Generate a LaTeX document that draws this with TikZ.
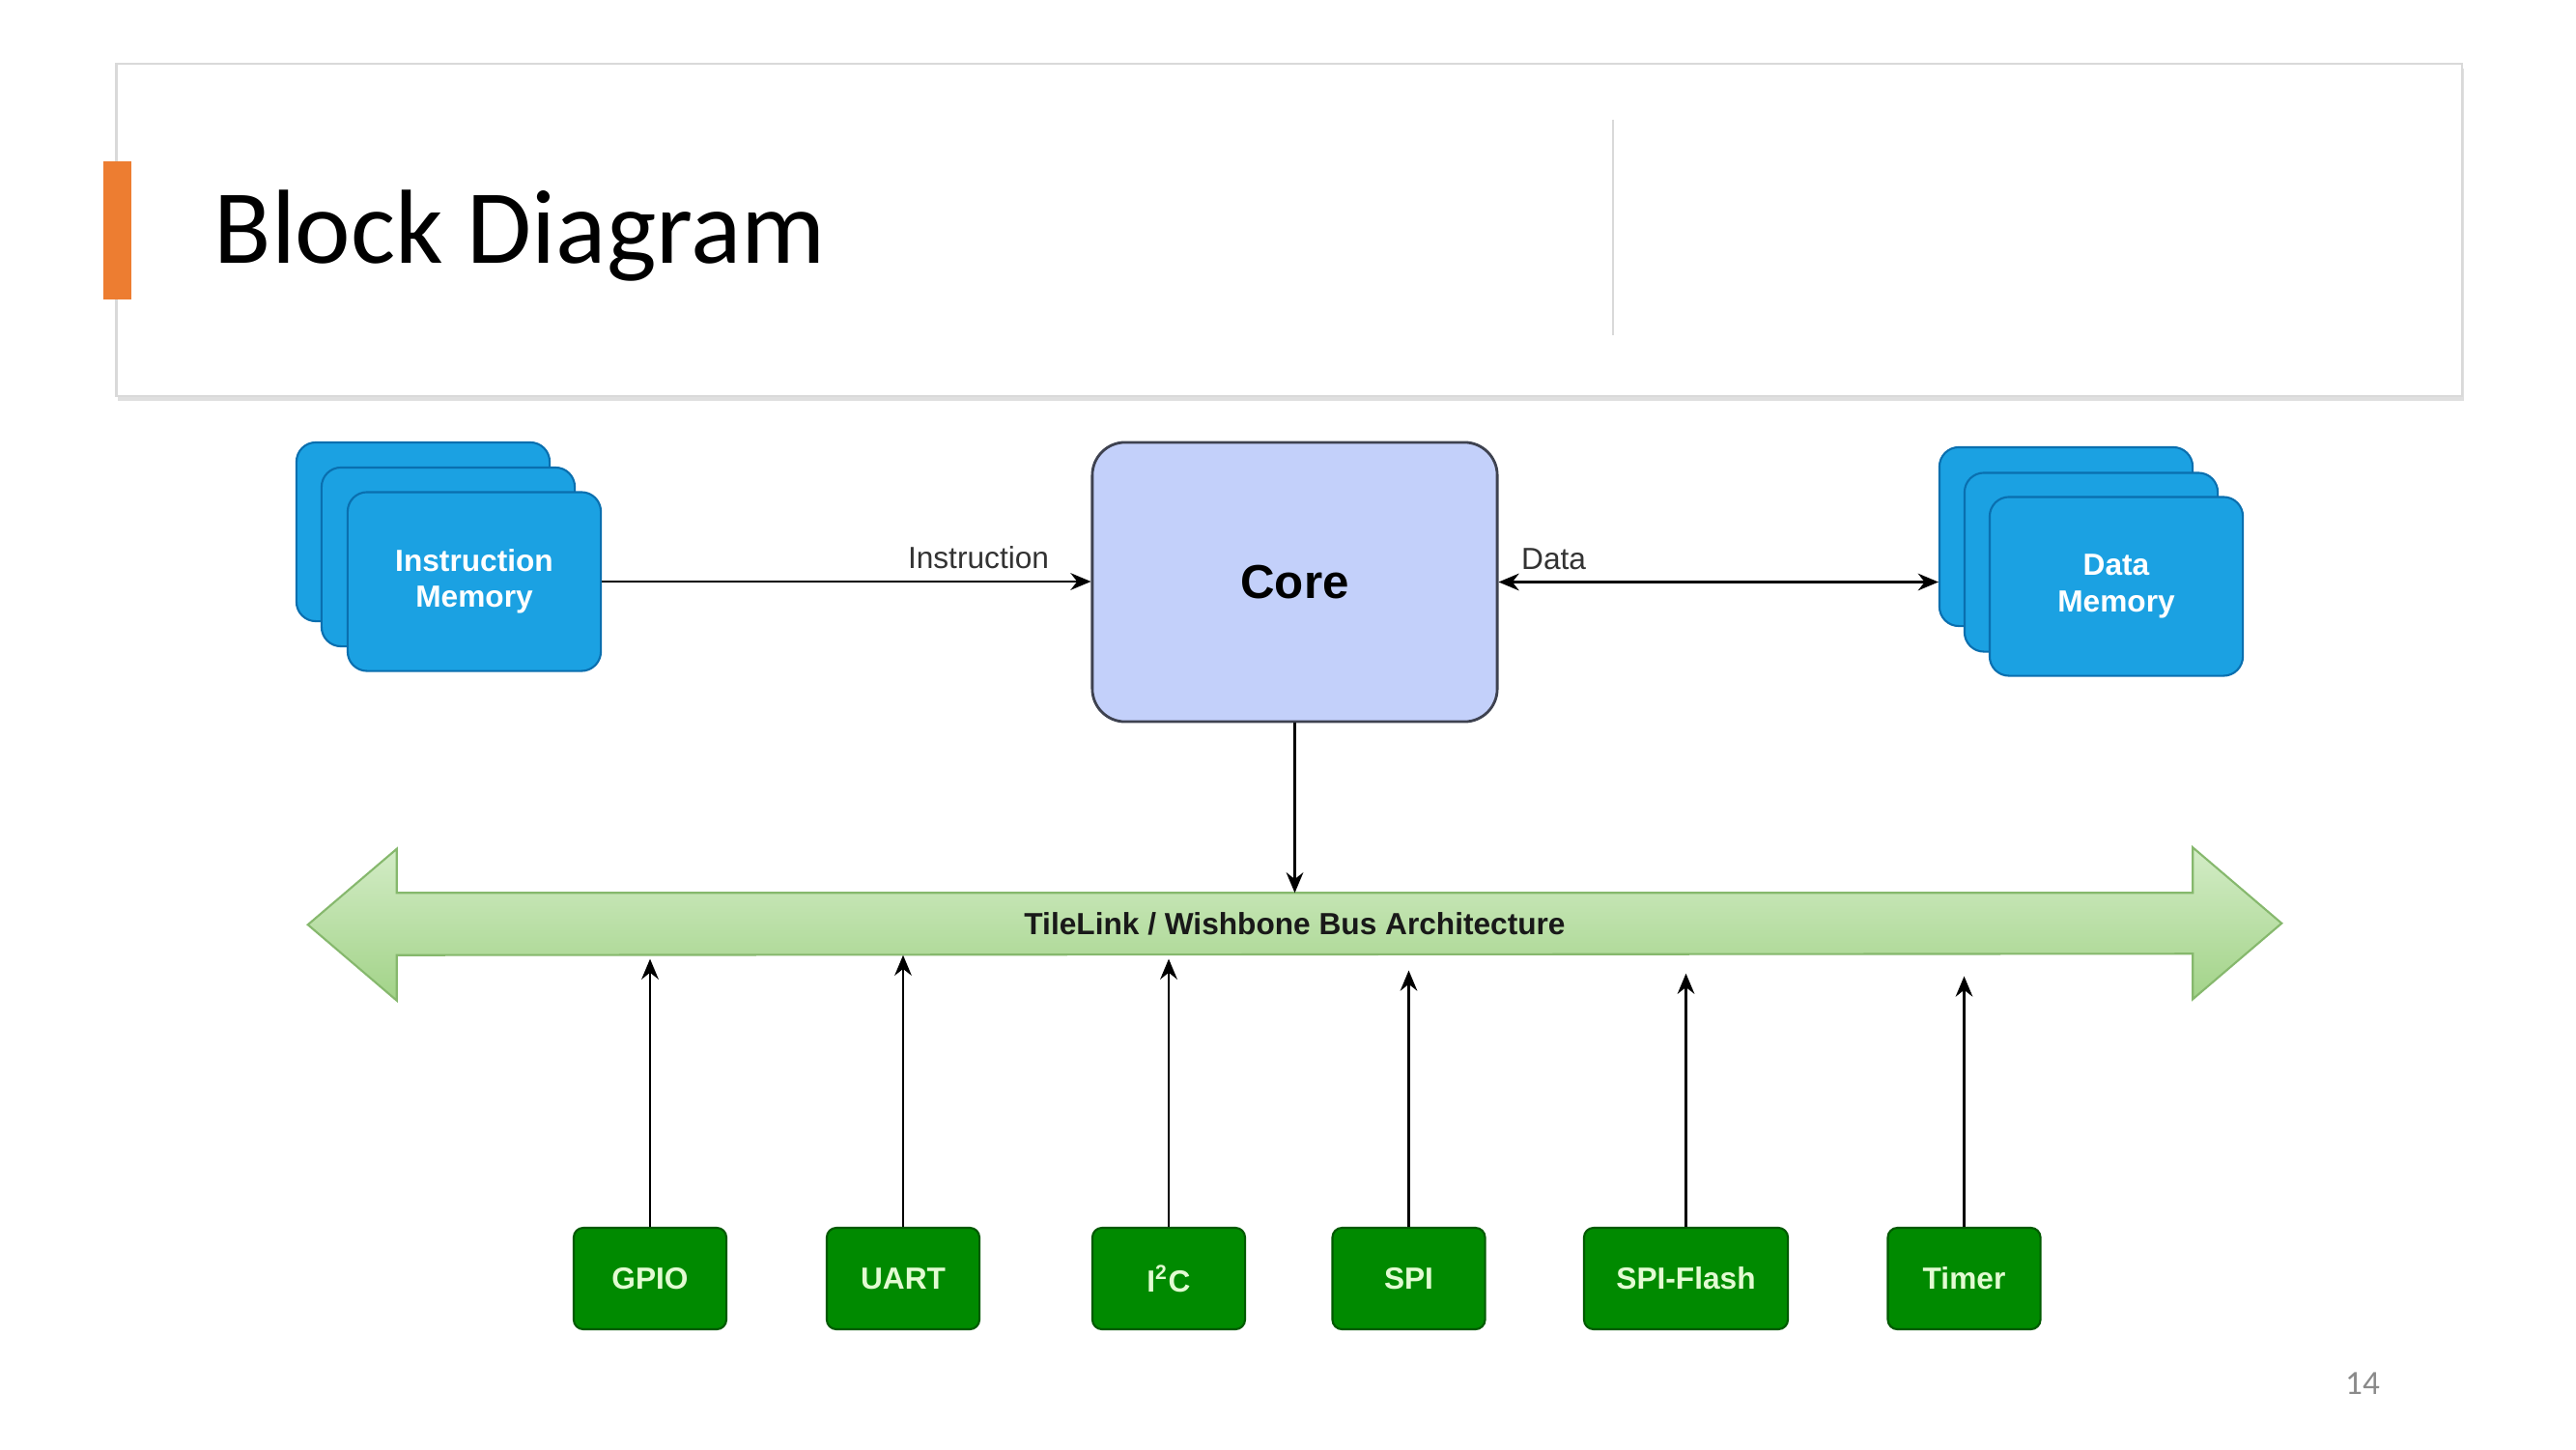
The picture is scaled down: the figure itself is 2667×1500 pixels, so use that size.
\documentclass[tikz,border=0pt]{standalone}
\usepackage{fontspec}
\setmainfont{Liberation Sans}
\newfontfamily\slidefont{Carlito}
\usetikzlibrary{arrows.meta, shadows}

\definecolor{memblue}{HTML}{1BA1E2}
\definecolor{memedge}{HTML}{0A6FAF}
\definecolor{corefill}{HTML}{C3D0FA}
\definecolor{coreedge}{HTML}{3E4250}
\definecolor{bustop}{HTML}{D3ECC6}
\definecolor{busbottom}{HTML}{A2D388}
\definecolor{busedge}{HTML}{86B86D}
\definecolor{periphfill}{HTML}{008A00}
\definecolor{periphedge}{HTML}{005A00}
\definecolor{periphtext}{HTML}{E2FBD2}
\definecolor{headerline}{HTML}{D9D9D9}
\definecolor{accent}{HTML}{ED7D31}
\definecolor{pagegray}{HTML}{8A8A8A}
\definecolor{labelgray}{HTML}{333333}

\begin{document}
\begin{tikzpicture}[x=0.01cm, y=-0.01cm, >={Stealth[length=6pt, width=5pt]},
    mem/.style={draw=memedge, fill=memblue, line width=0.6pt, rounded corners=0.2cm,
      minimum width=2.62cm, minimum height=1.85cm, text=white, align=center,
      font=\fontsize{9}{10.6}\selectfont\bfseries},
    periph/.style={draw=periphedge, fill=periphfill, line width=0.6pt, rounded corners=0.1cm,
      minimum width=1.58cm, minimum height=1.05cm, text=periphtext,
      font=\fontsize{9}{11}\selectfont\bfseries},
    busarrow/.style={draw=busedge, line width=0.6pt, top color=bustop, bottom color=busbottom},
    link/.style={->, line width=0.8pt}]
  \useasboundingbox (0,0) rectangle (2667,1500);

  % slide header
  \node[draw=headerline, fill=white, line width=0.7pt, minimum width=24.27cm, minimum height=3.44cm,
    drop shadow={shadow xshift=0.6pt, shadow yshift=-1.4pt, opacity=0.25}] (header) at (1334.5,238) {};
  \node[fill=accent, inner sep=0, minimum width=0.29cm, minimum height=1.43cm] (accentbar) at (121.5,238.5) {};
  \node[anchor=base west, inner sep=0, font=\slidefont\fontsize{31}{37}\selectfont] (title) at (221,272) {Block Diagram};
  \draw[headerline, line width=0.7pt] (1670,124) -- (1670,347);

  % memories and core
  \node[mem] (imemback) at (438,550.5) {};
  \node[mem] (imemmid) at (464,576.5) {};
  \node[mem] (imem) at (491,602) {Instruction\\Memory};
  \node[draw=coreedge, fill=corefill, line width=0.8pt, rounded corners=0.34cm,
    minimum width=4.19cm, minimum height=2.89cm, font=\fontsize{14}{16}\selectfont\bfseries] (core) at (1340.5,602.5) {Core};
  \node[mem] (dmemback) at (2139,555.5) {};
  \node[mem] (dmemmid) at (2165,582) {};
  \node[mem] (dmem) at (2191,607) {Data\\Memory};

  \draw[link] (imem.east) -- node[pos=0.77, above, text=labelgray, font=\fontsize{9}{11}\selectfont] {Instruction} (imem.east -| core.west);
  \draw[link, <->] (core.east) -- node[pos=0, above right, xshift=3pt, text=labelgray, font=\fontsize{9}{11}\selectfont] {Data} (core.east -| dmemback.west);

  % bus
  \node[inner sep=0, minimum width=18.57cm, minimum height=0.63cm] (bus) at (1340.5,956.5) {};
  \draw[busarrow] (bus.north west) -- (bus.north east) -- ++(0,-47) -- ++(92,78.5) -- ++(-92,78.5)
    -- ++(0,-47) -- (bus.south west) -- ++(0,47) -- ++(-92,-78.5) -- ++(92,-78.5) -- cycle;
  \node[font=\fontsize{9}{11}\selectfont\bfseries, text=black!90] (buslabel) at (bus) {TileLink / Wishbone Bus Architecture};
  \draw[link] (core) -- (core |- bus.north);

  % peripherals
  \node[periph] (gpio) at (673,1323.5) {GPIO};
  \node[periph] (uart) at (935,1323.5) {UART};
  \node[periph] (i2c) at (1210,1323.5) {I\textsuperscript{2}C};
  \node[periph] (spi) at (1458.5,1323.5) {SPI};
  \node[periph, minimum width=2.11cm] (spiflash) at (1745.5,1323.5) {SPI-Flash};
  \node[periph] (timer) at (2033.5,1323.5) {Timer};

  \draw[link, shorten >=1.1pt] (gpio) -- (gpio |- bus.south);
  \draw[link] (uart) -- (uart |- bus.south);
  \draw[link, shorten >=1.1pt] (i2c) -- (i2c |- bus.south);
  \draw[link, shorten >=4.5pt] (spi) -- (spi |- bus.south);
  \draw[link, shorten >=5.4pt] (spiflash) -- (spiflash |- bus.south);
  \draw[link, shorten >=6.2pt] (timer) -- (timer |- bus.south);

  \node[font=\slidefont\fontsize{10}{12}\selectfont, text=pagegray] (pagenum) at (2446,1432) {14};
\end{tikzpicture}
\end{document}
